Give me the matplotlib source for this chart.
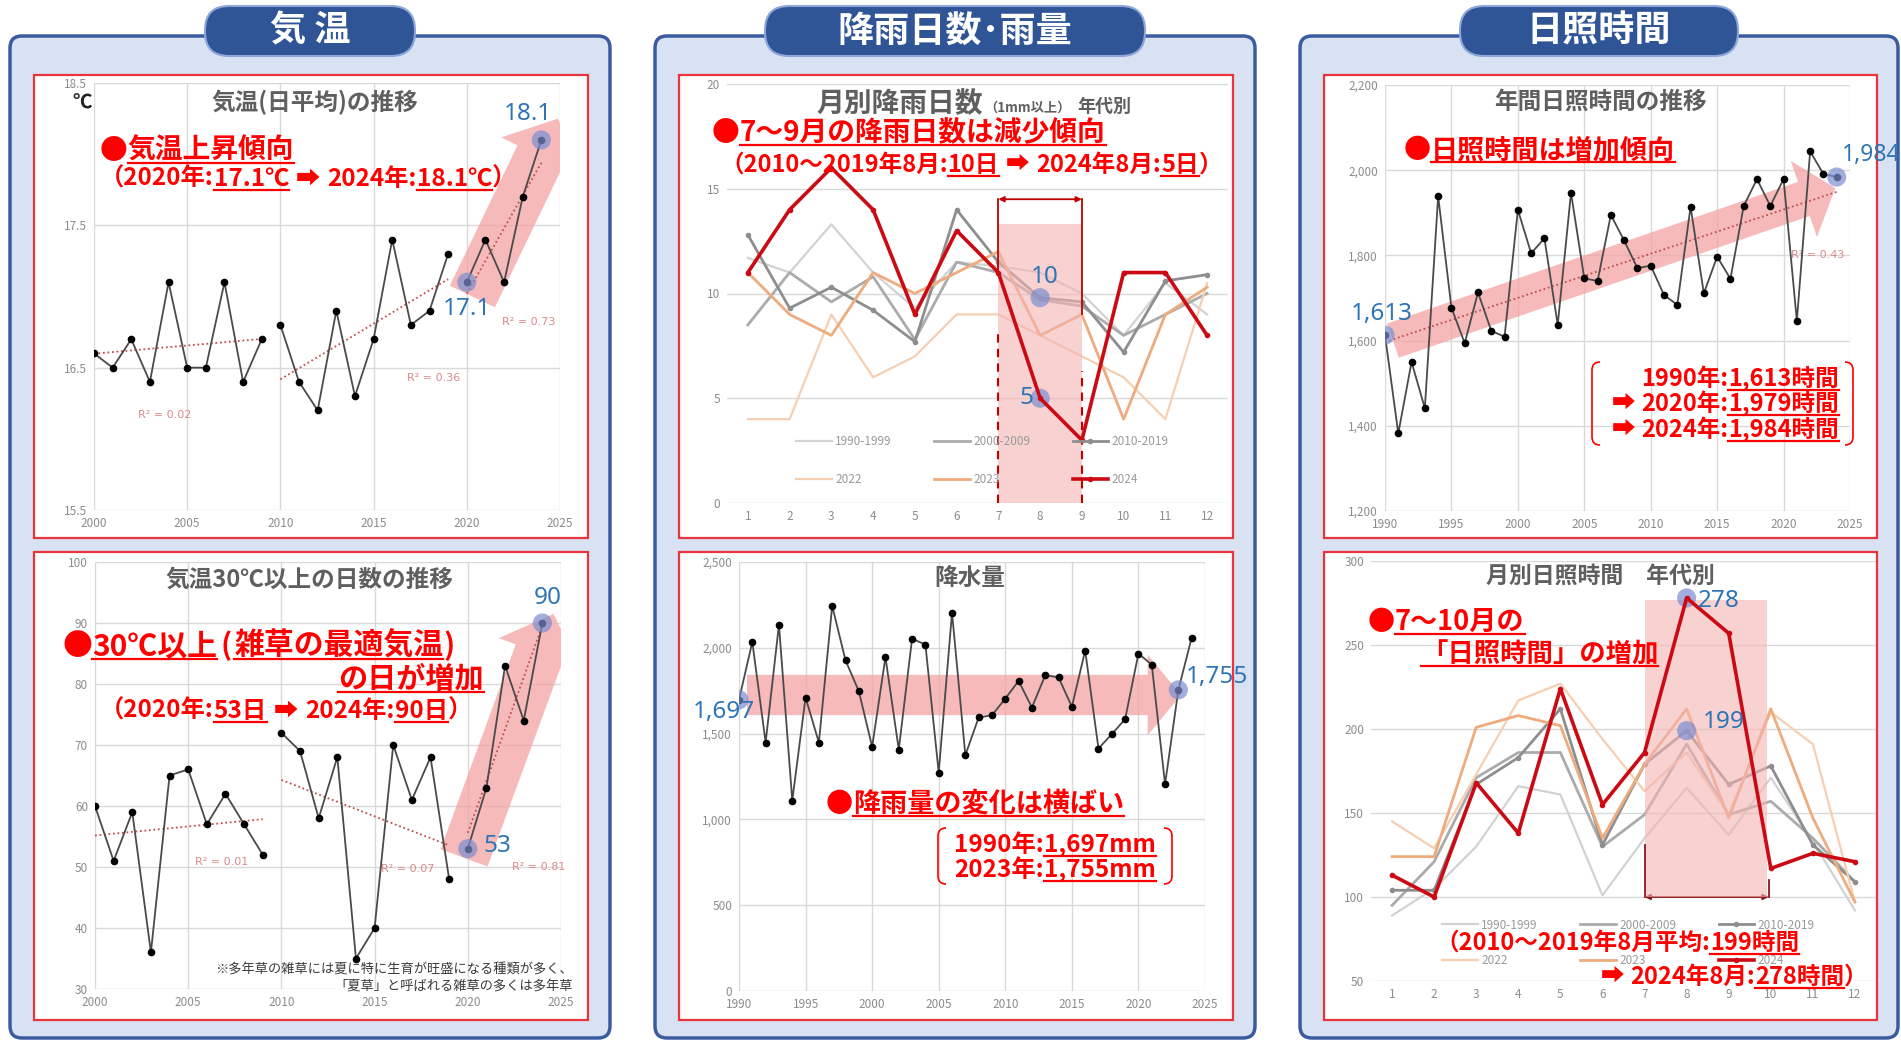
import numpy as np
import matplotlib
matplotlib.use('Agg')
import matplotlib.pyplot as plt
from matplotlib.patches import FancyBboxPatch, Rectangle, FancyArrowPatch, PathPatch
from matplotlib.path import Path
from matplotlib.lines import Line2D
from matplotlib.transforms import Affine2D
from matplotlib.ticker import FuncFormatter

JP = ['Noto Sans CJK JP', 'DejaVu Sans']
plt.rcParams['font.family'] = JP

### data

temp_years = list(range(2000, 2025))
temp_avg = [16.6, 16.5, 16.7, 16.4, 17.1, 16.5, 16.5, 17.1, 16.4, 16.7,
            16.8, 16.4, 16.2, 16.9, 16.3, 16.7, 17.4, 16.8, 16.9, 17.3,
            17.1, 17.4, 17.1, 17.7, 18.1]
temp_r2 = ['R² = 0.02', 'R² = 0.36', 'R² = 0.73']

hot_years = list(range(2000, 2025))
hot_days = [60, 51, 59, 36, 65, 66, 57, 62, 57, 52,
            72, 69, 58, 68, 35, 40, 70, 61, 68, 48,
            53, 63, 83, 74, 90]
hot_r2 = ['R² = 0.01', 'R² = 0.07', 'R² = 0.81']

# 3 periods for the yearly charts
segments = [(2000, 2009), (2010, 2019), (2020, 2024)]

months = list(range(1, 13))
series_names = ['1990-1999', '2000-2009', '2010-2019', '2022', '2023', '2024']

rain_1990s = [11.7, 11.0, 13.3, 11.0, 9.3, 11.5, 11.3, 11.0, 10.0, 8.0, 10.5, 9.0]
rain_2000s = [8.5, 11.0, 9.6, 10.8, 7.8, 11.5, 11.0, 9.7, 9.4, 8.0, 9.0, 10.0]
rain_2010s = [12.8, 9.3, 10.3, 9.2, 7.7, 14.0, 11.5, 9.8, 9.6, 7.2, 10.6, 10.9]
rain_2022 = [4, 4, 9, 6, 7, 9, 9, 8, 7, 6, 4, 10.5]
rain_2023 = [11, 9, 8, 11, 10, 11, 12, 8, 9, 4, 9, 10.3]
rain_2024 = [11, 14, 16, 14, 9, 13, 11, 5, 3, 11, 11, 8]

precip_years = list(range(1990, 2025))
precip_mm = [1697, 2034, 1448, 2135, 1110, 1710, 1448, 2244, 1927, 1747,
             1423, 1945, 1407, 2053, 2019, 1273, 2205, 1374, 1594, 1607,
             1704, 1807, 1652, 1840, 1828, 1656, 1984, 1413, 1497, 1584,
             1966, 1902, 1205, 1755, 2059]

sun_years = list(range(1990, 2025))
sun_hours = [1613, 1382, 1550, 1441, 1939, 1677, 1594, 1713, 1623, 1609,
             1907, 1805, 1840, 1637, 1947, 1746, 1740, 1895, 1835, 1770,
             1776, 1707, 1684, 1914, 1711, 1797, 1745, 1916, 1979, 1916,
             1979, 1646, 2044, 1991, 1984]
sun_r2 = 'R² = 0.43'

sun_1990s = [89, 105, 130, 166, 161, 101, 135, 165, 137, 171, 133, 92]
sun_2000s = [95, 121, 171, 186, 186, 130, 149, 191, 149, 157, 135, 109]
sun_2010s = [104, 104, 167, 183, 212, 131, 179, 199, 167, 178, 131, 109]
sun_2022 = [145, 129, 173, 217, 227, 194, 163, 186, 149, 210, 191, 97]
sun_2023 = [124, 124, 201, 208, 202, 135, 179, 212, 147, 212, 147, 97]
sun_2024 = [113, 100, 168, 138, 224, 155, 186, 278, 257, 117, 126, 121]

### style

RED = '#ff0000'
DARKRED = '#c00000'
BLUE = '#2e75b6'
TITLE = '#5f5f5f'
PINK = '#f3a3a3'
LINE = '#4a4a4a'
GRID = '#d9d9d9'
series_colors = ['#d2d2d2', '#ababab', '#8e8e8e', '#f6cfb2', '#eeab7d', '#cc0a14']
series_lw = [1.6, 2.0, 2.0, 1.6, 2.0, 2.6]

W, H = 1901, 1042
fig = plt.figure(figsize=(W / 100, H / 100), dpi=100)
fig.patch.set_facecolor('white')
PX = Affine2D().scale(1, -1).translate(0, H)   # top-down pixel coords


def add_patch(p):
    p.set_transform(PX)
    fig.add_artist(p)


def rich(x, y, parts, size, ha='left', color=RED, weight='bold'):
    # parts: (text, underline[, size]) or a number = gap in px
    r = fig.canvas.get_renderer()
    items = []
    for p in parts:
        if isinstance(p, (int, float)):
            items.append((None, p, False))
            continue
        sz = p[2] if len(p) > 2 else size
        t = fig.text(0, 0, p[0], transform=PX, fontsize=sz, fontweight=weight,
                     color=color, va='baseline', ha='left', zorder=8)
        items.append((t, t.get_window_extent(r).width, p[1]))
    total = sum(i[1] for i in items)
    if ha == 'right':
        x -= total
    elif ha == 'center':
        x -= total / 2
    for t, w, ul in items:
        if t is not None:
            t.set_position((x, y))
        if ul:
            fig.add_artist(Line2D([x, x + w], [y + 4, y + 4], transform=PX,
                                  color=color, lw=1.6, zorder=8))
        x += w


def bracket_box(x0, y0, x1, y1, r=8):
    for xa, d in ((x0, 1), (x1, -1)):
        verts = [(xa + d * r, y0), (xa, y0), (xa, y0 + r), (xa, y1 - r), (xa, y1), (xa + d * r, y1)]
        codes = [Path.MOVETO, Path.CURVE3, Path.CURVE3, Path.LINETO, Path.CURVE3, Path.CURVE3]
        add_patch(PathPatch(Path(verts, codes), fill=False, ec=RED, lw=1.2, zorder=8))


def make_ax(l, t, r, b, xlim, ylim):
    ax = fig.add_axes([l / W, 1 - b / H, (r - l) / W, (b - t) / H])
    ax.patch.set_alpha(0)
    for s in ax.spines.values():
        s.set_visible(False)
    ax.tick_params(length=0, labelsize=8.5, labelcolor='#8c8c8c', pad=5)
    ax.set_axisbelow(True)
    ax.set_xlim(*xlim)
    ax.set_ylim(*ylim)
    return ax


def black_line(ax, x, y):
    ax.plot(x, y, color=LINE, lw=1.3, marker='o', ms=4.5, mfc='black', mec='black', zorder=4)


def highlight(ax, x, y, label, dx, dy, ha='center', size=17.5):
    ax.scatter([x], [y], s=190, color='#7b8ed0', alpha=0.7, edgecolors='none', zorder=5)
    ax.annotate(label, (x, y), xytext=(dx, dy), textcoords='offset points', ha=ha,
                va='center', fontsize=size, color=BLUE, family=['Noto Sans', 'DejaVu Sans'],
                zorder=9, annotation_clip=False)


def trend(ax, x, y):
    k, c = np.polyfit(x, y, 1)
    xs = np.array([x[0], x[-1]])
    ax.plot(xs, k * xs + c, color='#c0504d', lw=1.3, ls=(0, (1, 1.5)), zorder=3)


def big_arrow(ax, a, b, tail, head_w, head_l):
    ax.add_patch(FancyArrowPatch(a, b, arrowstyle='simple,head_width=%g,head_length=%g,tail_width=%g'
                                 % (head_w, head_l, tail), mutation_scale=1, shrinkA=0, shrinkB=0,
                                 color=PINK, alpha=0.75, lw=0, zorder=2))


def title(x, y, s, size=17):
    fig.text(x, y, s, transform=PX, ha='center', va='center', fontsize=size,
             fontweight='bold', color=TITLE, zorder=8)


def monthly_legend(ax, lines, y0, spacing):
    order = [0, 3, 1, 4, 2, 5]
    leg = ax.legend([lines[i] for i in order], [series_names[i] for i in order], ncol=3,
                    loc='lower center', bbox_to_anchor=(0.51, y0), frameon=False,
                    fontsize=8.5, labelcolor='#9a9a9a', handlelength=3.0,
                    columnspacing=3.6, labelspacing=spacing, handletextpad=0.3)
    leg.set_zorder(6)


### panels and headers

for (x0, x1), head in zip([(10, 610), (655, 1255), (1300, 1898)], ['気 温', '降雨日数･雨量', '日照時間']):
    add_patch(FancyBboxPatch((x0, 36), x1 - x0, 1002, boxstyle='round,pad=0,rounding_size=12',
                             fc='#d9e2f3', ec='#3a5ba0', lw=2.5, zorder=-3))
    cx = (x0 + x1) / 2
    pw = {'気 温': 210, '降雨日数･雨量': 380, '日照時間': 278}[head]
    add_patch(FancyBboxPatch((cx - pw / 2, 6), pw, 50, boxstyle='round,pad=0,rounding_size=24',
                             fc='#2f5597', ec='#8ea7d8', lw=1.5, zorder=7))
    fig.text(cx, 31, head, transform=PX, ha='center', va='center', fontsize=26,
             fontweight='bold', color='white', zorder=8)

for x0, x1 in [(34, 588), (679, 1233), (1324, 1877)]:
    for y0, y1 in [(75, 538), (552, 1020)]:
        add_patch(Rectangle((x0, y0), x1 - x0, y1 - y0, fc='white', ec='#e8343a', lw=1.6, zorder=-1))

### 気温(日平均)

ax = make_ax(94, 83, 560, 510, (2000, 2025), (15.5, 18.5))
ax.set_xticks(range(2000, 2026, 5))
ax.set_yticks([15.5, 16.5, 17.5, 18.5])
ax.grid(color=GRID, lw=1)
ty = np.array(temp_years)
tv = np.array(temp_avg)
big_arrow(ax, (2020.3, 17.0), (2024.9, 18.25), 36, 62, 30)
for (a, b), lab, pos in zip(segments, temp_r2, [(2003.8, 16.17), (2018.2, 16.43), (2023.3, 16.82)]):
    m = (ty >= a) & (ty <= b)
    black_line(ax, ty[m], tv[m])
    trend(ax, ty[m], tv[m])
    ax.text(pos[0], pos[1], lab, fontsize=8, color='#d88a8a', ha='center', va='center',
            family=['DejaVu Sans'])
highlight(ax, 2020, temp_avg[temp_years.index(2020)], '17.1', 0, -19)
highlight(ax, 2024, temp_avg[temp_years.index(2024)], '18.1', -10, 19)
fig.text(82, 103, '℃', transform=PX, ha='center', va='center', fontsize=14,
         fontweight='bold', color='#222222')
title(315, 102, '気温(日平均)の推移')
rich(100, 159, [('●', False), ('気温上昇傾向', True)], 20)
rich(100, 186, [('（2020年:', False), ('17.1℃', True), 7, ('➡', False), 7, ('2024年:', False),
                ('18.1℃', True), ('）', False)], 17.5)

### 気温30℃以上の日数

ax = make_ax(95, 562, 561, 989, (2000, 2025), (30, 100))
ax.set_xticks(range(2000, 2026, 5))
ax.set_yticks(range(30, 101, 10))
ax.grid(color=GRID, lw=1)
hy = np.array(hot_years)
hv = np.array(hot_days)
big_arrow(ax, (2019.8, 51.5), (2024.6, 91.5), 36, 62, 30)
for (a, b), lab, pos in zip(segments, hot_r2, [(2006.8, 50.8), (2016.8, 49.7), (2023.8, 50.0)]):
    m = (hy >= a) & (hy <= b)
    black_line(ax, hy[m], hv[m])
    trend(ax, hy[m], hv[m])
    ax.text(pos[0], pos[1], lab, fontsize=8, color='#d88a8a', ha='center', va='center',
            family=['DejaVu Sans'])
highlight(ax, 2020, hot_days[hot_years.index(2020)], '53', 21, 2)
highlight(ax, 2024, hot_days[hot_years.index(2024)], '90', 4, 18)
title(309, 580, '気温30℃以上の日数の推移')
rich(62, 655, [('●', False), ('30℃以上', True), 4, ('(', False), 2, ('雑草の最適気温', True),
               (')', False)], 21.5)
rich(484, 688, [('の日が増加', True)], 21, ha='right')
rich(100, 718, [('（2020年:', False), ('53日', True), 7, ('➡', False), 7, ('2024年:', False),
                ('90日', True), ('）', False)], 17.5)
fig.text(573, 974, '※多年草の雑草には夏に特に生育が旺盛になる種類が多く、', transform=PX,
         ha='right', va='baseline', fontsize=9.5, color='#3a3a3a', zorder=8)
fig.text(573, 991, '「夏草」と呼ばれる雑草の多くは多年草', transform=PX,
         ha='right', va='baseline', fontsize=9.5, color='#3a3a3a', zorder=8)

### 月別降雨日数

ax = make_ax(727, 84, 1228, 503, (0.5, 12.5), (0, 20))
ax.set_xticks(months)
ax.set_yticks(range(0, 21, 5))
ax.grid(axis='y', color=GRID, lw=1)
rain = [rain_1990s, rain_2000s, rain_2010s, rain_2022, rain_2023, rain_2024]
lines = []
for i, vals in enumerate(rain):
    mk = 'o' if i in (2, 5) else None
    ln, = ax.plot(months, vals, color=series_colors[i], lw=series_lw[i], marker=mk, ms=3,
                  zorder=6 if i == 5 else 2)
    lines.append(ln)
ax.add_patch(Rectangle((7, 0), 2, 13.3, fc='#f4b3b3', alpha=0.6, lw=0, zorder=4))
ax.annotate('', (7, 14.5), (9, 14.5), arrowprops=dict(arrowstyle='<|-|>', color=DARKRED, lw=1.3,
                                                      shrinkA=0, shrinkB=0, mutation_scale=8))
ax.plot([7, 7], [14.5, rain_2024[6]], color=DARKRED, lw=1.3, zorder=5)
ax.plot([9, 9], [14.5, rain_2010s[8] - 0.6], color=DARKRED, lw=1.3, zorder=5)
ax.plot([7, 7], [0, 8.3], color=DARKRED, lw=1.5, ls=(0, (4, 3)), zorder=5)
ax.plot([9, 9], [0, 6.3], color=DARKRED, lw=1.5, ls=(0, (4, 3)), zorder=5)
highlight(ax, 8, rain_2010s[7], '10', 3, 15)
highlight(ax, 8, rain_2024[7], '5', -10, 0)
monthly_legend(ax, lines, 0.015, 2.1)
rich(816, 112, [('月別降雨日数', False), 2, ('（1mm以上）', False, 9.5), 6, ('年代別', False, 13)],
     20, color=TITLE)
rich(712, 141, [('●', False), ('7～9月の降雨日数は減少傾向', True)], 20)
rich(720, 172, [('（2010～2019年8月:', False), ('10日', True), 7, ('➡', False), 7,
                ('2024年8月:', False), ('5日', True), ('）', False)], 17)

### 降水量

ax = make_ax(739, 562, 1205, 991, (1990, 2025), (0, 2500))
ax.set_xticks(range(1990, 2026, 5))
ax.set_yticks(range(0, 2501, 500))
ax.yaxis.set_major_formatter(FuncFormatter(lambda v, p: '{:,.0f}'.format(v)))
ax.grid(color=GRID, lw=1)
big_arrow(ax, (1990.6, 1725), (2023.2, 1725), 29, 58, 24)
black_line(ax, precip_years, precip_mm)
highlight(ax, 1990, precip_mm[0], '1,697', -11, -9)
highlight(ax, 2023, precip_mm[precip_years.index(2023)], '1,755', 5, 9, ha='left')
title(970, 578, '降水量')
rich(826, 812, [('●', False), ('降雨量の変化は横ばい', True)], 19.5)
bracket_box(938, 828, 1172, 884)
rich(1055, 852, [('1990年:', False), ('1,697mm', True)], 17.5, ha='center')
rich(1055, 877, [('2023年:', False), ('1,755mm', True)], 17.5, ha='center')

### 年間日照時間

ax = make_ax(1385, 85, 1850, 511, (1990, 2025), (1200, 2200))
ax.set_xticks(range(1990, 2026, 5))
ax.set_yticks(range(1200, 2201, 200))
ax.yaxis.set_major_formatter(FuncFormatter(lambda v, p: '{:,.0f}'.format(v)))
ax.grid(color=GRID, lw=1)
big_arrow(ax, (1990.6, 1600), (2023.9, 1958), 26, 58, 24)
black_line(ax, sun_years, sun_hours)
trend(ax, np.array(sun_years), np.array(sun_hours))
ax.text(2022.6, 1800, sun_r2, fontsize=8, color='#d88a8a', ha='center', va='center',
        family=['DejaVu Sans'])
highlight(ax, 1990, sun_hours[0], '1,613', -2, 15)
highlight(ax, 2024, sun_hours[-1], '1,984', 4, 16, ha='left', size=16.5)
title(1600, 102, '年間日照時間の推移')
rich(1404, 158, [('●', False), ('日照時間は増加傾向', True)], 19.5)
bracket_box(1592, 362, 1853, 445)
rich(1839, 386, [('1990年:', False), ('1,613時間', True)], 17, ha='right')
rich(1839, 411, [('➡', False), 6, ('2020年:', False), ('1,979時間', True)], 17, ha='right')
rich(1839, 437, [('➡', False), 6, ('2024年:', False), ('1,984時間', True)], 17, ha='right')

### 月別日照時間

ax = make_ax(1371, 561, 1876, 981, (0.5, 12.5), (50, 300))
ax.set_xticks(months)
ax.set_yticks(range(50, 301, 50))
ax.grid(axis='y', color=GRID, lw=1)
sun_m = [sun_1990s, sun_2000s, sun_2010s, sun_2022, sun_2023, sun_2024]
lines = []
for i, vals in enumerate(sun_m):
    mk = 'o' if i in (2, 5) else None
    ln, = ax.plot(months, vals, color=series_colors[i], lw=series_lw[i], marker=mk, ms=3,
                  zorder=6 if i == 5 else 2)
    lines.append(ln)
ax.add_patch(Rectangle((7, 100), 2.9, 177, fc='#f4b3b3', alpha=0.6, lw=0, zorder=4))
ax.annotate('', (7, 100), (9.95, 100), arrowprops=dict(arrowstyle='<|-|>', color='#8b1a1a', lw=1.3,
                                                       shrinkA=0, shrinkB=0, mutation_scale=8))
ax.plot([7, 7], [100, 131], color='#8b1a1a', lw=1.3, zorder=5)
ax.plot([9.95, 9.95], [100, 110], color='#8b1a1a', lw=1.3, zorder=5)
highlight(ax, 8, sun_2024[7], '278', 8, -2, ha='left')
highlight(ax, 8, sun_2010s[7], '199', 12, 6, ha='left')
monthly_legend(ax, lines, 0.008, 1.9)
title(1600, 576, '月別日照時間　年代別', 16.5)
rich(1368, 630, [('●', False), ('7～10月の', True)], 19.5)
rich(1421, 662, [('「日照時間」の増加', True)], 19)
rich(1435, 950, [('（2010～2019年8月平均:', False), ('199時間', True)], 17)
rich(1868, 984, [('➡', False), 6, ('2024年8月:', False), ('278時間', True), ('）', False)], 17,
     ha='right')

fig.savefig('out.png', dpi=100, facecolor='white')
